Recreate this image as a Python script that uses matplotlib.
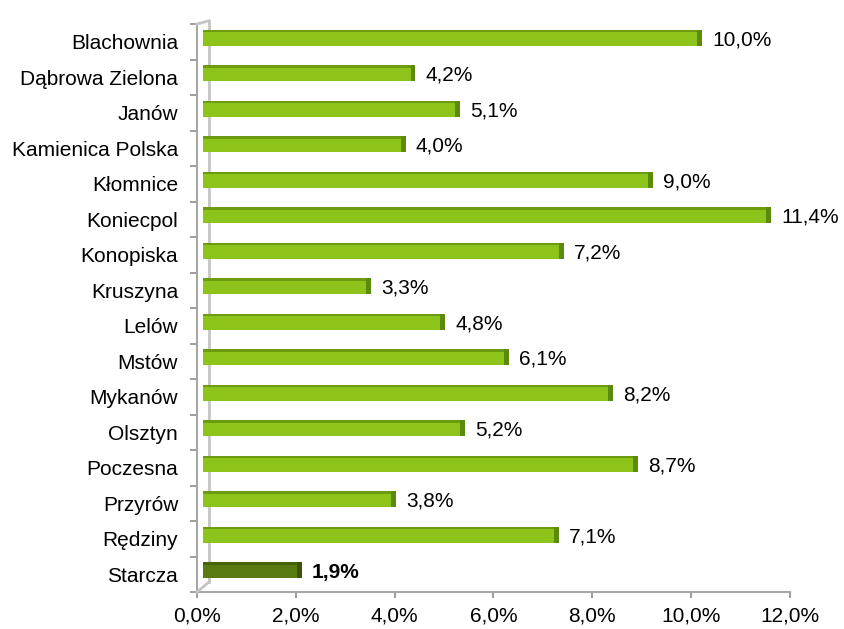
import numpy as np
import matplotlib
matplotlib.use('Agg')
import matplotlib.pyplot as plt
import matplotlib.transforms as mtransforms
from matplotlib.lines import Line2D

plt.rcParams['font.family'] = ['Liberation Sans', 'DejaVu Sans']

# Data
gminy = ['Blachownia', 'Dąbrowa Zielona', 'Janów', 'Kamienica Polska', 'Kłomnice',
         'Koniecpol', 'Konopiska', 'Kruszyna', 'Lelów', 'Mstów', 'Mykanów',
         'Olsztyn', 'Poczesna', 'Przyrów', 'Rędziny', 'Starcza']
values = [10.0, 4.2, 5.1, 4.0, 9.0, 11.4, 7.2, 3.3, 4.8, 6.1, 8.2, 5.2, 8.7, 3.8, 7.1, 1.9]
highlight = 'Starcza'
xticks = [0, 2, 4, 6, 8, 10, 12]

GREEN = '#8cc41c'
GREEN_TOP = '#6c9a10'
GREEN_END = '#5b8a0c'
DARK = '#587a10'
DARK_TOP = '#46620a'
DARK_END = '#3c5508'
GRAY = '#a6a6a6'
FS = 15

fig = plt.figure(figsize=(8.45, 6.29), dpi=100)
ax = fig.add_axes([197/845, 37/629, 593/845, 568/629])

y = np.arange(len(gminy))
h = 0.45
# 3D-ish shift of the bars (in pixels)
bar_tr = mtransforms.offset_copy(ax.transData, fig, x=6, y=4, units='dots')

for i, (name, v) in enumerate(zip(gminy, values)):
    hl = name == highlight
    face = DARK if hl else GREEN
    top = DARK_TOP if hl else GREEN_TOP
    end = DARK_END if hl else GREEN_END
    ax.barh(i, v, height=h, color=face, transform=bar_tr, zorder=3)
    ax.barh(i - h/2 + 0.035, v, height=0.07, color=top, transform=bar_tr, zorder=4)
    ax.barh(i, 0.1, left=v, height=h, color=end, transform=bar_tr, zorder=4)
    lbl = f"{v:.1f}".replace('.', ',') + '%'
    ax.annotate(lbl, (v, i), xytext=(21, 2), textcoords='offset pixels',
                va='center', ha='left', fontsize=FS,
                fontweight='bold' if hl else 'normal', color='black')

ax.set_xlim(0, 12)
ax.set_ylim(len(gminy) - 0.5, -0.5)
ax.set_xticks(xticks)
ax.set_xticklabels([f"{t:.1f}".replace('.', ',') + '%' for t in xticks], fontsize=FS)
ax.set_yticks(y)
ax.set_yticklabels(gminy, fontsize=FS)
ax.set_yticks(np.arange(len(gminy) + 1) - 0.5, minor=True)
ax.tick_params(axis='y', which='major', length=0, pad=13.5)
ax.tick_params(axis='y', which='minor', length=5, color='#8c8c8c', width=1.2)
ax.tick_params(axis='x', length=4.5, color='#8c8c8c', width=1.2, pad=6)

for s in ax.spines.values():
    s.set_visible(False)

# walls / floor of the 3D frame
dx, dy = 12, 10
back = mtransforms.offset_copy(ax.transAxes, fig, x=dx, y=dy, units='dots')
kw = dict(color=GRAY, lw=1.5, clip_on=False, zorder=2)
ax.add_line(Line2D([0, 0], [0, 1], transform=ax.transAxes, **kw))
ax.add_line(Line2D([0, 1], [0, 0], transform=ax.transAxes, **kw))
ax.add_line(Line2D([0, 0], [0, 1 - 0.012], transform=back, color='#c4c4c4', lw=2,
                   clip_on=False, zorder=2))
for yy in (0, 1):
    p0 = ax.transAxes.transform((0, yy))
    p1 = back.transform((0, yy - 0.012 * yy))
    ax.add_line(Line2D([p0[0], p1[0]], [p0[1], p1[1]], transform=None,
                       color='#c4c4c4', lw=2, clip_on=False, zorder=2))

fig.savefig('out.png', dpi=100)
